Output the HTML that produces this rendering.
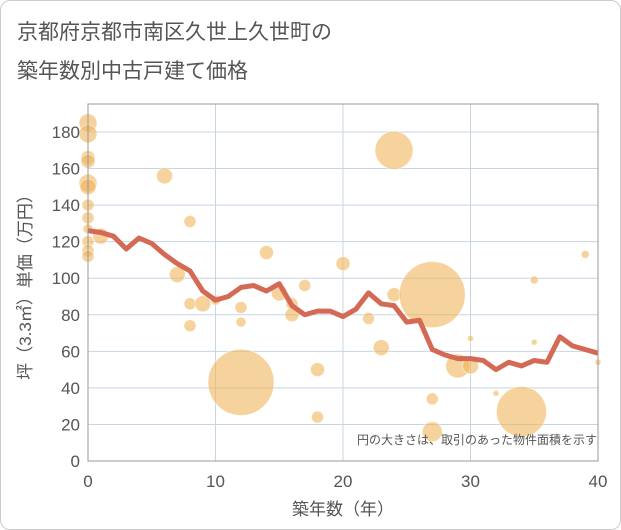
<!DOCTYPE html>
<html><head><meta charset="utf-8"><style>
body{margin:0;background:#fff;}
#wrap{position:relative;width:619px;height:528px;border:1px solid #ccc;border-radius:10px;background:#fff;overflow:hidden;}
svg{position:absolute;left:0;top:0;font-family:"Liberation Sans","Noto Sans CJK JP",sans-serif;}
</style></head><body>
<div id="wrap">
<svg id="c" width="621" height="530">
<text x="16" y="38" font-size="21" fill="#555">京都府京都市南区久世上久世町の</text>
<text x="16" y="77" font-size="21" fill="#555">築年数別中古戸建て価格</text>
<g id="grid"></g><g id="bub"></g><g id="ln"></g><g id="ax"></g>
<text x="596" y="443" font-size="12" fill="#555" text-anchor="end">円の大きさは、取引のあった物件面積を示す</text>
<text x="342" y="514" font-size="17" fill="#555" text-anchor="middle">築年数（年）</text>
<text transform="translate(30,282) rotate(-90)" font-size="17" fill="#555" text-anchor="middle">坪（3.3㎡）単価（万円）</text>
</svg></div>
<script>
const lineAges=[0,1,2,3,4,5,6,7,8,9,10,11,12,13,14,15,16,17,18,19,20,21,22,23,24,25,26,27,28,29,30,31,32,33,34,35,36,37,38,39,40];
const lineValues=[126,125,123,116,122,119,113,108,104,93,88,90,95,96,93,97,85,80,82,82,79,83,92,86,85,76,77,61,58,56,56,55,50,54,52,55,54,68,63,61,59];
const bubbleAges=[0,0,0,0,0,0,0,0,0,0,0,0,1,6,8,7,8,9,10,8,12,12,12,14,15,16,16,17,18,18,20,22,23,24,24,27,27,27,29,30,30,32,34,35,35,39,40];
const bubbleValues=[185,179,166,164,152,150,140,133,127,120,115,112,123,156,131,102,86,86,88,74,84,76,43,114,92,86,80,96,50,24,108,78,62,91,170,91,34,16,52,52,67,37,27,99,65,113,54];
const bubbleRadii=[9,9,7,7,9,8,6,6,5,6,6,6,8,8,6,8,6,8,5,6,6,5,33,7,8,6,7,6,7,6,7,6,8,7,19,33,6,10,12,8,3,3,25,4,3,4,3];
const xTicks=[0,10,20,30,40];
const yTicks=[0,20,40,60,80,100,120,140,160,180];
const NS="http://www.w3.org/2000/svg";
const L=87,R=597,T=103,B=460;
const xs=v=>L+(v/40)*(R-L);
const ys=v=>B-v*(B-131)/180;
function mk(tag,attrs,parent){const e=document.createElementNS(NS,tag);for(const k in attrs)e.setAttribute(k,attrs[k]);document.getElementById(parent).appendChild(e);return e;}
xTicks.forEach(t=>{
 const g=mk('line',{x1:xs(t),x2:xs(t),y1:T,y2:B,stroke:'#c8d4e4','stroke-width':1},'grid');
 
 
 const tx=mk('text',{x:xs(t),y:B+26,'font-size':17,fill:'#555','text-anchor':'middle'},'ax');tx.textContent=t;
 
 
});
yTicks.forEach(t=>{
 const g=mk('line',{x1:L,x2:R,y1:ys(t),y2:ys(t),stroke:'#c8d4e4','stroke-width':1},'grid');
 
 
 const tx=mk('text',{x:L-8,y:ys(t)+6,'font-size':17,fill:'#555','text-anchor':'end'},'ax');tx.textContent=t;
 
 
});
const fr=mk('rect',{x:L,y:T,width:R-L,height:B-T,fill:'none',stroke:'#999','stroke-width':1},'ax');


bubbleAges.forEach((a,i)=>{
 const c=mk('circle',{cx:xs(a),cy:ys(bubbleValues[i]),r:bubbleRadii[i],fill:'rgba(240,180,90,0.6)',stroke:'rgba(255,255,255,0.5)','stroke-width':1},'bub');
 
 
});
const p=mk('polyline',{points:lineAges.map((a,i)=>xs(a)+','+ys(lineValues[i])).join(' '),fill:'none',stroke:'#d46a55','stroke-width':5,'stroke-linejoin':'round'},'ln');


</script>
</body></html>
